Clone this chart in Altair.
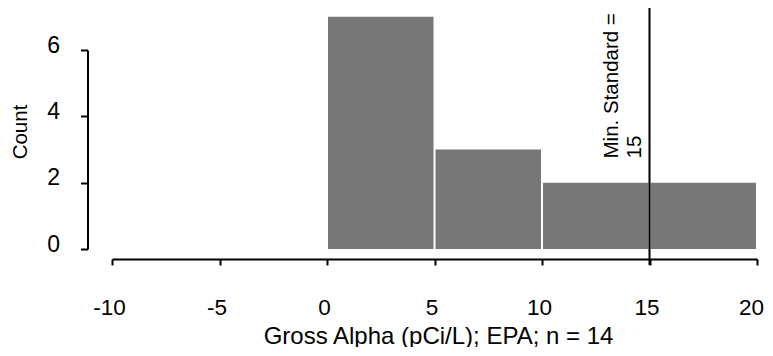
import altair as alt
import pandas as pd

# Histogram of Gross Alpha (pCi/L); EPA; n = 14
bin_start = [0, 5, 10, 15]
bin_end = [5, 10, 15, 20]
counts = [7, 3, 2, 2]

x_ticks = [-10, -5, 0, 5, 10, 15, 20]
y_ticks = [0, 2, 4, 6]

standard_value = 15
standard_label = "Min. Standard =\n15"
rule_top = 7.3
rule_bottom = -0.48
label_y = 2.73

FONT = "Liberation Sans"

bars_df = pd.DataFrame({"start": bin_start, "end": bin_end, "count": counts})
rule_df = pd.DataFrame({"x": [standard_value], "y1": [rule_top], "y2": [rule_bottom]})
text_df = pd.DataFrame({"x": [standard_value], "y": [label_y], "label": [standard_label]})

x_scale = alt.Scale(domain=[-10, 20], nice=False, zero=False)
y_scale = alt.Scale(domain=[0, 6], nice=False, zero=False)

x_axis = alt.Axis(
    values=x_ticks, offset=10, grid=False,
    tickSize=6, tickWidth=2, tickColor="black",
    domainWidth=2, domainColor="black",
    labelFont=FONT, labelFontSize=22.5, labelColor="black",
    labelPadding=31, labelFlush=False, labelOverlap=False,
    labelOffset={"condition": {"test": "datum.value >= 20", "value": -6}, "value": -3},
    labelExpr="datum.value < 0 ? '-' + abs(datum.value) : datum.label",
    title="Gross Alpha (pCi/L); EPA; n = 14",
    titleFont=FONT, titleFontSize=24, titleFontWeight="normal", titleColor="black",
    titleX=326, titleY=84, titleBaseline="alphabetic", titleAlign="center",
)
y_axis = alt.Axis(
    values=y_ticks, offset=24.5, grid=False,
    tickSize=7, tickWidth=2, tickColor="black",
    domainWidth=2, domainColor="black",
    labelFont=FONT, labelFontSize=23, labelColor="black",
    labelPadding=21, labelOffset=-5, labelFlush=False, labelOverlap=False,
    title="Count",
    titleFont=FONT, titleFontSize=20.5, titleFontWeight="normal", titleColor="black",
    titleAngle=270, titleX=-61, titleY=81.5, titleBaseline="alphabetic", titleAlign="center",
)

bars = alt.Chart(bars_df).mark_rect(color="#777777", xOffset=1, x2Offset=-1).encode(
    x=alt.X("start:Q", scale=x_scale, axis=x_axis),
    x2="end:Q",
    y=alt.Y("count:Q", scale=y_scale, axis=y_axis),
    y2=alt.datum(0),
)

rule = alt.Chart(rule_df).mark_rule(color="black", strokeWidth=2).encode(
    x=alt.X("x:Q", scale=x_scale),
    y=alt.Y("y1:Q", scale=y_scale),
    y2="y2:Q",
)

text = alt.Chart(text_df).mark_text(
    align="left", baseline="alphabetic", angle=270, dy=-32,
    font=FONT, fontSize=20.5, lineBreak="\n", lineHeight=23.4, color="black",
).encode(
    x=alt.X("x:Q", scale=x_scale),
    y=alt.Y("y:Q", scale=y_scale),
    text="label:N",
)

chart = alt.layer(bars, rule, text).properties(
    width=645, height=199,
    padding={"left": 104, "top": 42, "right": 7, "bottom": 98},
    autosize=alt.AutoSizeParams(type="none"),
    background="white",
).configure_view(stroke=None)

chart.save("out.html", embed_options={"renderer": "svg", "actions": False})
